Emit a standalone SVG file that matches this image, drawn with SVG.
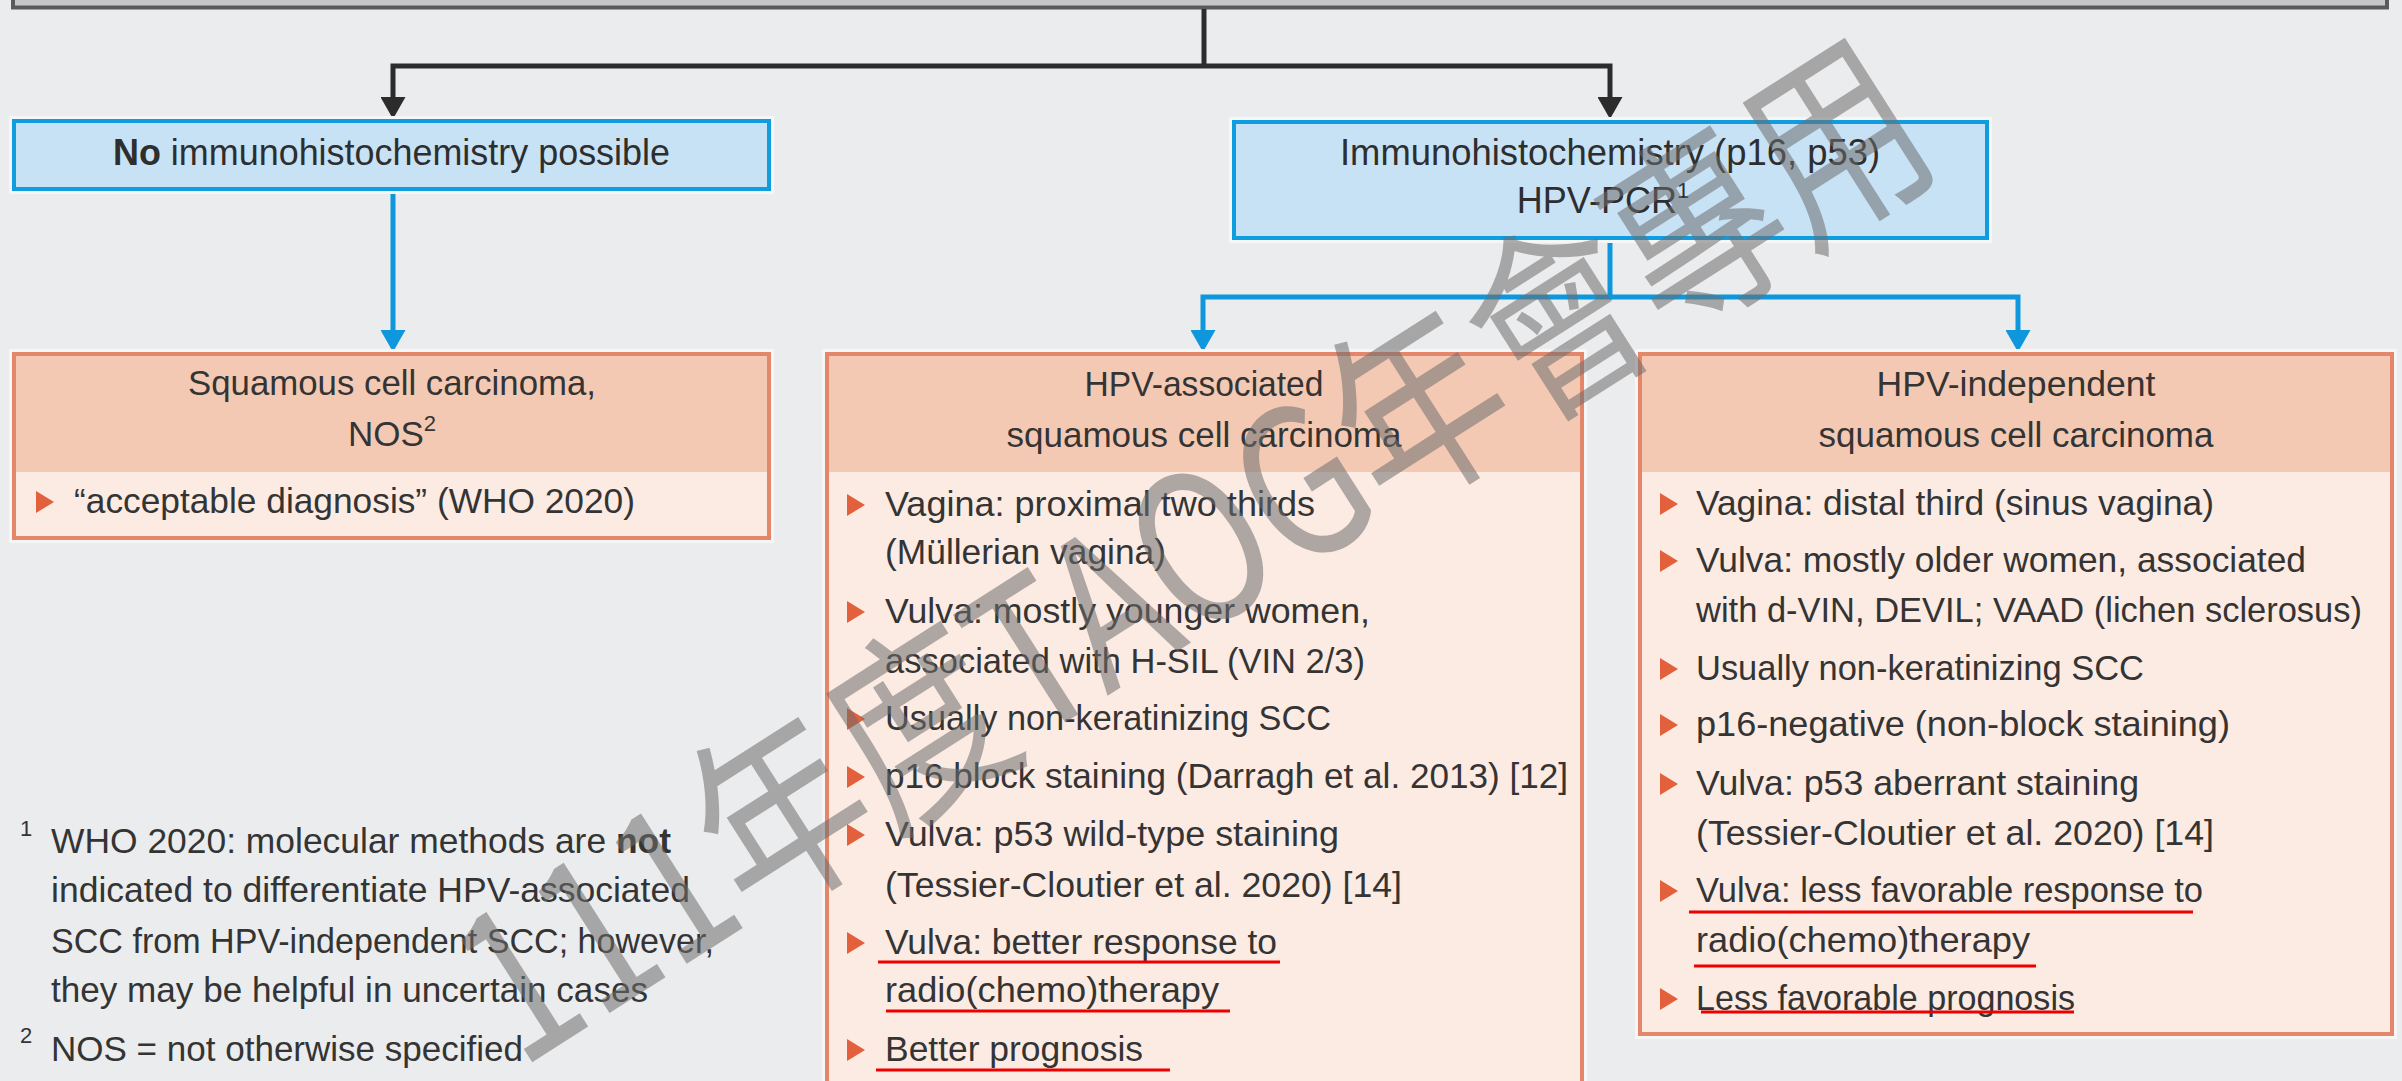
<svg xmlns="http://www.w3.org/2000/svg" xmlns:xlink="http://www.w3.org/1999/xlink" width="2402" height="1081" viewBox="0 0 2402 1081">
<defs>
<style>
.t{font-family:"Liberation Sans",Arial,sans-serif;font-size:35px;fill:#343434}
.tb{font-family:"Liberation Sans",Arial,sans-serif;font-size:36px;fill:#2e2e2e}
.sup{font-size:22px}
.halo{fill:none;stroke:#f6f6f6;stroke-width:10}
.bbox{fill:#c8e2f5;stroke:#0f9de0;stroke-width:4}
.obord{fill:none;stroke:#e4866a;stroke-width:4}
.ohead{fill:#f4c9b3}
.obody{fill:#fcebe3}
.blk{fill:none;stroke:#2c2c2c;stroke-width:5}
.blu{fill:none;stroke:#0e97dc;stroke-width:5}
.ul{fill:none;stroke:#ee0000;stroke-width:3}
.wm{font-family:"Noto Sans CJK TC","Noto Sans CJK SC",sans-serif;font-size:165px;fill:#6e6e6e;fill-opacity:0.55}
</style>
<path id="tri" d="M0,-22 L18,-11 L0,0 z" fill="#e2603b"/>
<marker id="ab" viewBox="0 0 22 25" refX="12" refY="12.5" markerWidth="22" markerHeight="25" markerUnits="userSpaceOnUse" orient="auto"><path d="M0,0 L22,12.5 L0,25 z" fill="#2c2c2c"/></marker>
<marker id="abl" viewBox="0 0 22 25" refX="12" refY="12.5" markerWidth="22" markerHeight="25" markerUnits="userSpaceOnUse" orient="auto"><path d="M0,0 L22,12.5 L0,25 z" fill="#0e97dc"/></marker>
</defs>
<rect x="0" y="0" width="2402" height="1081" fill="#ebecee"/>

<g id="top">
<rect x="13" y="-20" width="2374" height="27.5" fill="#c6c7c9" stroke="#5a5a5a" stroke-width="4"/>
</g>

<g id="connectors">
<path class="blk" d="M1204,9 V66"/>
<path class="blk" d="M1204,66 H393 V109" marker-end="url(#ab)"/>
<path class="blk" d="M1204,66 H1610 V109" marker-end="url(#ab)"/>
<path class="blu" d="M393,191 V342" marker-end="url(#abl)"/>
<path class="blu" d="M1610,240 V297 H1203 V342" marker-end="url(#abl)"/>
<path class="blu" d="M1610,297 H2018 V342" marker-end="url(#abl)"/>
</g>

<g id="no-ihc">
<rect class="halo" x="14" y="121" width="755" height="68"/>
<rect class="bbox" x="14" y="121" width="755" height="68"/>
<text class="tb" x="391.5" y="165" text-anchor="middle" textLength="557" lengthAdjust="spacingAndGlyphs"><tspan font-weight="bold">No</tspan> immunohistochemistry possible</text>
</g>

<g id="ihc">
<rect class="halo" x="1234" y="122" width="753" height="116"/>
<rect class="bbox" x="1234" y="122" width="753" height="116"/>
<text class="tb" x="1610" y="165" text-anchor="middle" textLength="540" lengthAdjust="spacingAndGlyphs">Immunohistochemistry (p16, p53)</text>
<text class="tb" x="1603" y="213" text-anchor="middle">HPV-PCR<tspan class="sup" dy="-15">1</tspan></text>
</g>

<g id="scc-nos">
<rect class="halo" x="14" y="354" width="755" height="184"/>
<rect class="obody" x="14" y="354" width="755" height="184"/>
<rect class="ohead" x="14" y="354" width="755" height="118"/>
<rect class="obord" x="14" y="354" width="755" height="184"/>
<text class="t" x="392" y="395" text-anchor="middle" textLength="408" lengthAdjust="spacingAndGlyphs">Squamous cell carcinoma,</text>
<text class="t" x="392" y="446" text-anchor="middle">NOS<tspan class="sup" dy="-15">2</tspan></text>
<use href="#tri" x="36" y="513"/>
<text class="t" x="74" y="513" textLength="561" lengthAdjust="spacingAndGlyphs">“acceptable diagnosis” (WHO 2020)</text>
</g>

<g id="hpv-associated">
<rect class="halo" x="827" y="354" width="755" height="760"/>
<rect class="obody" x="827" y="354" width="755" height="760"/>
<rect class="ohead" x="827" y="354" width="755" height="118"/>
<rect class="obord" x="827" y="354" width="755" height="760"/>
<text class="t" x="1204" y="396" text-anchor="middle" textLength="239" lengthAdjust="spacingAndGlyphs">HPV-associated</text>
<text class="t" x="1204" y="447" text-anchor="middle" textLength="395" lengthAdjust="spacingAndGlyphs">squamous cell carcinoma</text>
<use href="#tri" x="847" y="516"/>
<text class="t" x="885" y="516" textLength="430" lengthAdjust="spacingAndGlyphs">Vagina: proximal two thirds</text>
<text class="t" x="885" y="564" textLength="281" lengthAdjust="spacingAndGlyphs">(Müllerian vagina)</text>
<use href="#tri" x="847" y="623"/>
<text class="t" x="885" y="623" textLength="485" lengthAdjust="spacingAndGlyphs">Vulva: mostly younger women,</text>
<text class="t" x="885" y="673" textLength="480" lengthAdjust="spacingAndGlyphs">associated with H-SIL (VIN 2/3)</text>
<use href="#tri" x="847" y="730"/>
<text class="t" x="885" y="730" textLength="446" lengthAdjust="spacingAndGlyphs">Usually non-keratinizing SCC</text>
<use href="#tri" x="847" y="788"/>
<text class="t" x="885" y="788" textLength="683" lengthAdjust="spacingAndGlyphs">p16 block staining (Darragh et al. 2013) [12]</text>
<use href="#tri" x="847" y="846"/>
<text class="t" x="885" y="846" textLength="454" lengthAdjust="spacingAndGlyphs">Vulva: p53 wild-type staining</text>
<text class="t" x="885" y="897" textLength="517" lengthAdjust="spacingAndGlyphs">(Tessier-Cloutier et al. 2020) [14]</text>
<use href="#tri" x="847" y="954"/>
<text class="t" x="885" y="954" textLength="392" lengthAdjust="spacingAndGlyphs">Vulva: better response to</text>
<text class="t" x="885" y="1002" textLength="334" lengthAdjust="spacingAndGlyphs">radio(chemo)therapy</text>
<use href="#tri" x="847" y="1061"/>
<text class="t" x="885" y="1061" textLength="258" lengthAdjust="spacingAndGlyphs">Better prognosis</text>
<path class="ul" d="M878,962 H1280"/>
<path class="ul" d="M886,1011 H1230"/>
<path class="ul" d="M876,1070 H1170"/>
</g>

<g id="hpv-independent">
<rect class="halo" x="1640" y="354" width="752" height="680"/>
<rect class="obody" x="1640" y="354" width="752" height="680"/>
<rect class="ohead" x="1640" y="354" width="752" height="118"/>
<rect class="obord" x="1640" y="354" width="752" height="680"/>
<text class="t" x="2016" y="396" text-anchor="middle" textLength="279" lengthAdjust="spacingAndGlyphs">HPV-independent</text>
<text class="t" x="2016" y="447" text-anchor="middle" textLength="395" lengthAdjust="spacingAndGlyphs">squamous cell carcinoma</text>
<use href="#tri" x="1660" y="515"/>
<text class="t" x="1696" y="515" textLength="518" lengthAdjust="spacingAndGlyphs">Vagina: distal third (sinus vagina)</text>
<use href="#tri" x="1660" y="572"/>
<text class="t" x="1696" y="572" textLength="610" lengthAdjust="spacingAndGlyphs">Vulva: mostly older women, associated</text>
<text class="t" x="1696" y="622" textLength="666" lengthAdjust="spacingAndGlyphs">with d-VIN, DEVIL; VAAD (lichen sclerosus)</text>
<use href="#tri" x="1660" y="680"/>
<text class="t" x="1696" y="680" textLength="448" lengthAdjust="spacingAndGlyphs">Usually non-keratinizing SCC</text>
<use href="#tri" x="1660" y="736"/>
<text class="t" x="1696" y="736" textLength="534" lengthAdjust="spacingAndGlyphs">p16-negative (non-block staining)</text>
<use href="#tri" x="1660" y="795"/>
<text class="t" x="1696" y="795" textLength="443" lengthAdjust="spacingAndGlyphs">Vulva: p53 aberrant staining</text>
<text class="t" x="1696" y="845" textLength="518" lengthAdjust="spacingAndGlyphs">(Tessier-Cloutier et al. 2020) [14]</text>
<use href="#tri" x="1660" y="902"/>
<text class="t" x="1696" y="902" textLength="507" lengthAdjust="spacingAndGlyphs">Vulva: less favorable response to</text>
<text class="t" x="1696" y="952" textLength="334" lengthAdjust="spacingAndGlyphs">radio(chemo)therapy</text>
<use href="#tri" x="1660" y="1010"/>
<text class="t" x="1696" y="1010" textLength="379" lengthAdjust="spacingAndGlyphs">Less favorable prognosis</text>
<path class="ul" d="M1689,912 H2193"/>
<path class="ul" d="M1694,966 H2036"/>
<path class="ul" d="M1701,1012 H2074"/>
</g>

<g id="footnotes">
<text class="t sup" x="20" y="836">1</text>
<text class="t" x="51" y="853" textLength="620" lengthAdjust="spacingAndGlyphs">WHO 2020: molecular methods are <tspan font-weight="bold">not</tspan></text>
<text class="t" x="51" y="902" textLength="639" lengthAdjust="spacingAndGlyphs">indicated to differentiate HPV-associated</text>
<text class="t" x="51" y="953" textLength="663" lengthAdjust="spacingAndGlyphs">SCC from HPV-independent SCC; however,</text>
<text class="t" x="51" y="1002" textLength="597" lengthAdjust="spacingAndGlyphs">they may be helpful in uncertain cases</text>
<text class="t sup" x="20" y="1043">2</text>
<text class="t" x="51" y="1061" textLength="472" lengthAdjust="spacingAndGlyphs">NOS = not otherwise specified</text>
</g>

<g id="watermark">
<text class="wm" x="0" y="0" transform="translate(520,1070) rotate(-32.5) scale(1,1.25)">111年度TAOG年會專用</text>
</g>
</svg>
